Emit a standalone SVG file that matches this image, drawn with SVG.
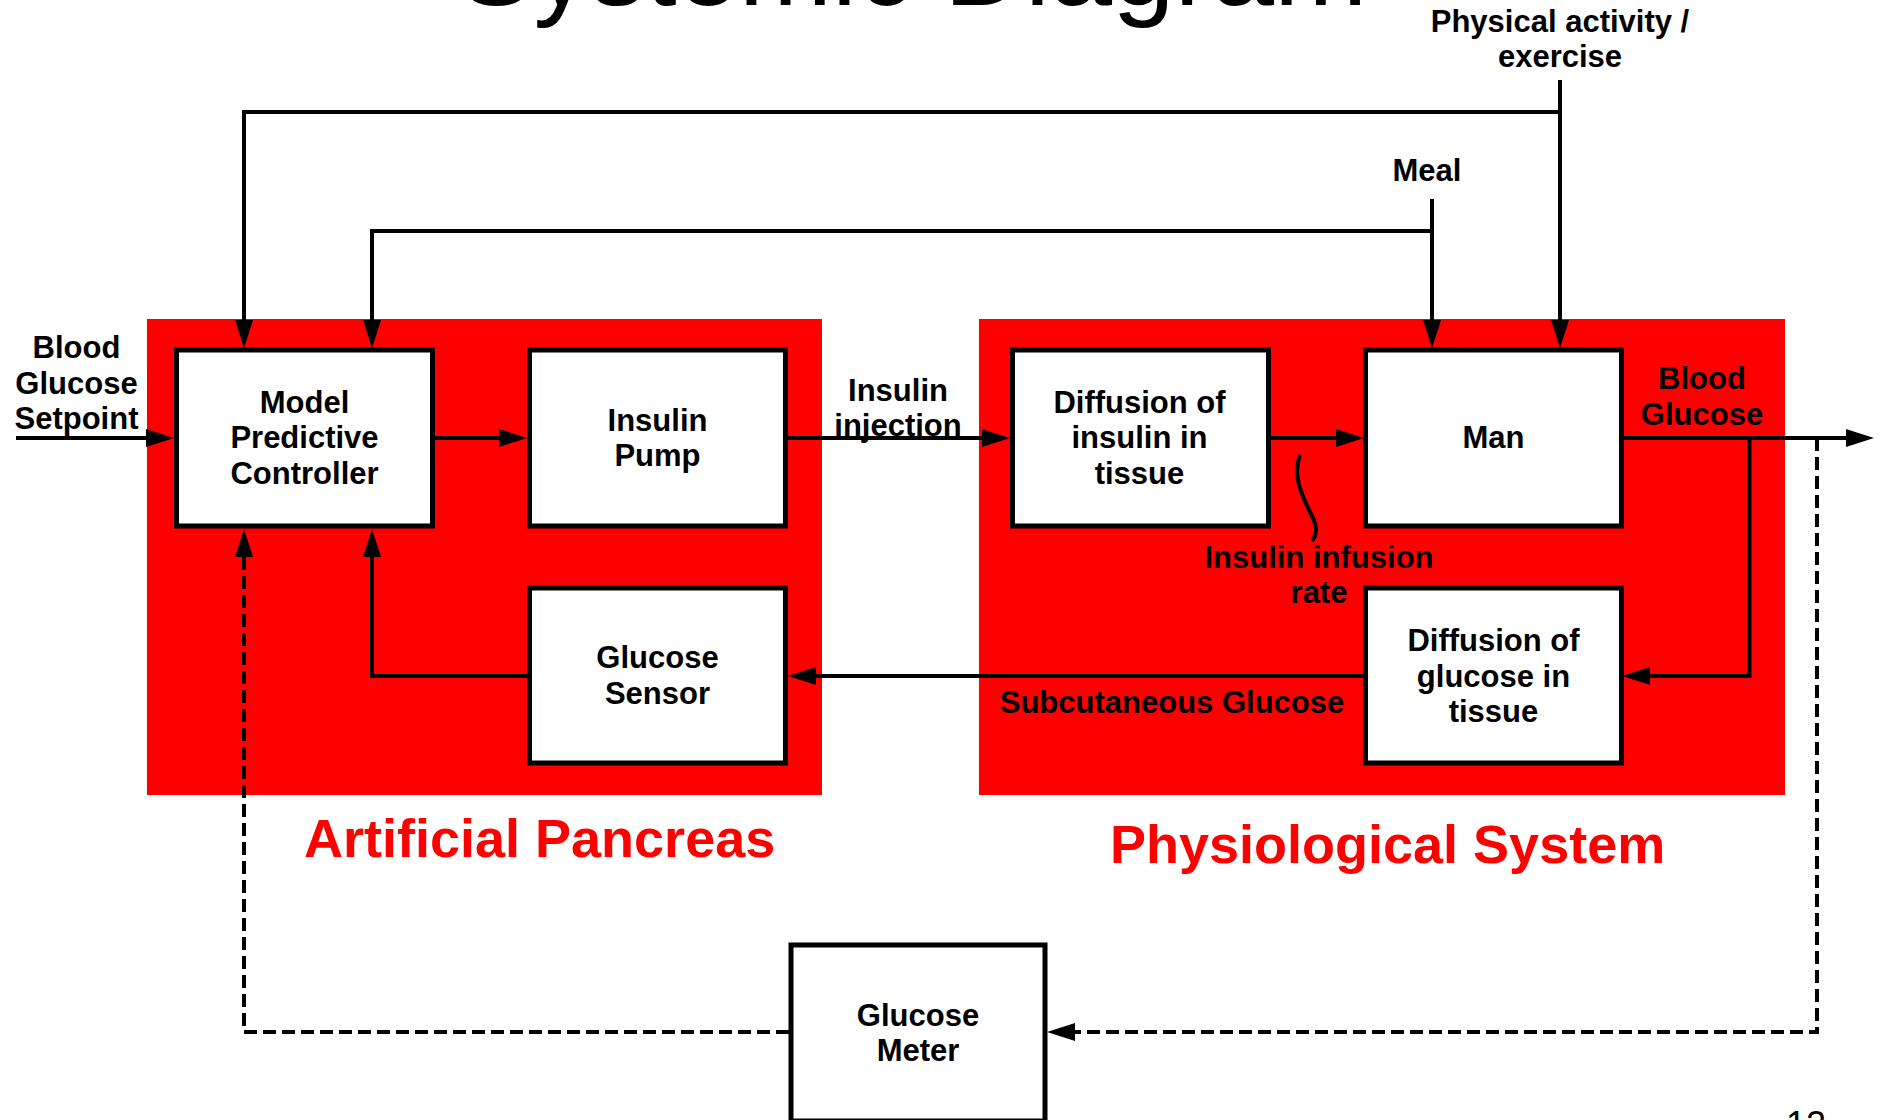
<svg xmlns="http://www.w3.org/2000/svg" width="1883" height="1120" viewBox="0 0 1883 1120">
<style>
text{font-family:"Liberation Sans",Arial,sans-serif;}
.lbl{font-size:31px;font-weight:bold;fill:#000;text-anchor:middle;}
.big{font-size:54px;font-weight:bold;fill:#FF0000;}
.box{fill:#fff;stroke:#000;stroke-width:5;}
.area{fill:#FF0000;}
.ln{fill:none;stroke:#000;stroke-width:4;}
.dash{fill:none;stroke:#000;stroke-width:4;stroke-dasharray:13 6;}
</style>
<defs>
<marker id="arr" markerUnits="userSpaceOnUse" markerWidth="28" markerHeight="18" viewBox="0 0 28 18" refX="18" refY="9" orient="auto">
<path d="M0,0 L28,9 L0,18 z" fill="#000"/>
</marker>
</defs>
<rect width="1883" height="1120" fill="#fff"/>
<text x="913" y="5" style="font-size:112px;text-anchor:middle;fill:#000">Systemic Diagram</text>
<text x="1786" y="1137" style="font-size:36px;fill:#000">12</text>

<g id="artificial-pancreas">
<rect class="area" x="147" y="319" width="675" height="476"/>
<text class="big" x="304" y="857">Artificial Pancreas</text>
</g>
<g id="physiological-system">
<rect class="area" x="979" y="319" width="806" height="476"/>
<text class="big" x="1110" y="863">Physiological System</text>
</g>

<g id="connectors">
<path class="ln" d="M16,438 H164" marker-end="url(#arr)"/>
<path class="ln" d="M434,438 H517" marker-end="url(#arr)"/>
<path class="ln" d="M788,438 H1000" marker-end="url(#arr)"/>
<path class="ln" d="M1268,438 H1354" marker-end="url(#arr)"/>
<path class="ln" d="M1622,438 H1864" marker-end="url(#arr)"/>
<path class="ln" d="M1749.5,438 V676 H1632" marker-end="url(#arr)"/>
<path class="ln" d="M1364,676 H798" marker-end="url(#arr)"/>
<path class="ln" d="M527,676 H372 V539" marker-end="url(#arr)"/>
<path class="ln" d="M1560,80 V338" marker-end="url(#arr)"/>
<path class="ln" d="M1560,112 H244 V338" marker-end="url(#arr)"/>
<path class="ln" d="M1432,199 V338" marker-end="url(#arr)"/>
<path class="ln" d="M1432,231 H372 V338" marker-end="url(#arr)"/>
<path class="dash" d="M1817,438 V1032 H1057" marker-end="url(#arr)"/>
<path class="dash" d="M789,1032 H244 V539" marker-end="url(#arr)"/>
<path class="ln" d="M1300,455 C1292,476 1302,496 1312,516 C1318,528 1317,535 1312,541"/>
</g>

<g id="labels">
<text class="lbl" x="76.5" y="358">Blood</text>
<text class="lbl" x="76.5" y="394">Glucose</text>
<text class="lbl" x="76.5" y="429">Setpoint</text>
<text class="lbl" x="1560" y="32">Physical activity /</text>
<text class="lbl" x="1560" y="67">exercise</text>
<text class="lbl" x="1427" y="181">Meal</text>
<text class="lbl" x="898" y="401">Insulin</text>
<text class="lbl" x="898" y="436">injection</text>
<text class="lbl" x="1702" y="389">Blood</text>
<text class="lbl" x="1702" y="425">Glucose</text>
<text class="lbl" x="1319" y="568">Insulin infusion</text>
<text class="lbl" x="1319" y="603">rate</text>
<text class="lbl" x="1172" y="713">Subcutaneous Glucose</text>
</g>

<g id="mpc">
<rect class="box" x="176.5" y="350" width="256" height="176"/>
<text class="lbl" x="304.5" y="413">Model</text>
<text class="lbl" x="304.5" y="448">Predictive</text>
<text class="lbl" x="304.5" y="484">Controller</text>
</g>
<g id="insulin-pump">
<rect class="box" x="529.5" y="350" width="256" height="176"/>
<text class="lbl" x="657.5" y="431">Insulin</text>
<text class="lbl" x="657.5" y="466">Pump</text>
</g>
<g id="glucose-sensor">
<rect class="box" x="529.5" y="588" width="256" height="175"/>
<text class="lbl" x="657.5" y="668">Glucose</text>
<text class="lbl" x="657.5" y="704">Sensor</text>
</g>
<g id="diffusion-insulin">
<rect class="box" x="1012.5" y="350" width="256" height="176"/>
<text class="lbl" x="1139.5" y="413">Diffusion of</text>
<text class="lbl" x="1139.5" y="448">insulin in</text>
<text class="lbl" x="1139.5" y="484">tissue</text>
</g>
<g id="man">
<rect class="box" x="1365.5" y="350" width="256" height="176"/>
<text class="lbl" x="1493.5" y="448">Man</text>
</g>
<g id="diffusion-glucose">
<rect class="box" x="1365.5" y="588" width="256" height="175"/>
<text class="lbl" x="1493.5" y="651">Diffusion of</text>
<text class="lbl" x="1493.5" y="687">glucose in</text>
<text class="lbl" x="1493.5" y="722">tissue</text>
</g>
<g id="glucose-meter">
<rect class="box" x="791" y="945" width="254" height="176"/>
<text class="lbl" x="918" y="1026">Glucose</text>
<text class="lbl" x="918" y="1061">Meter</text>
</g>
</svg>
